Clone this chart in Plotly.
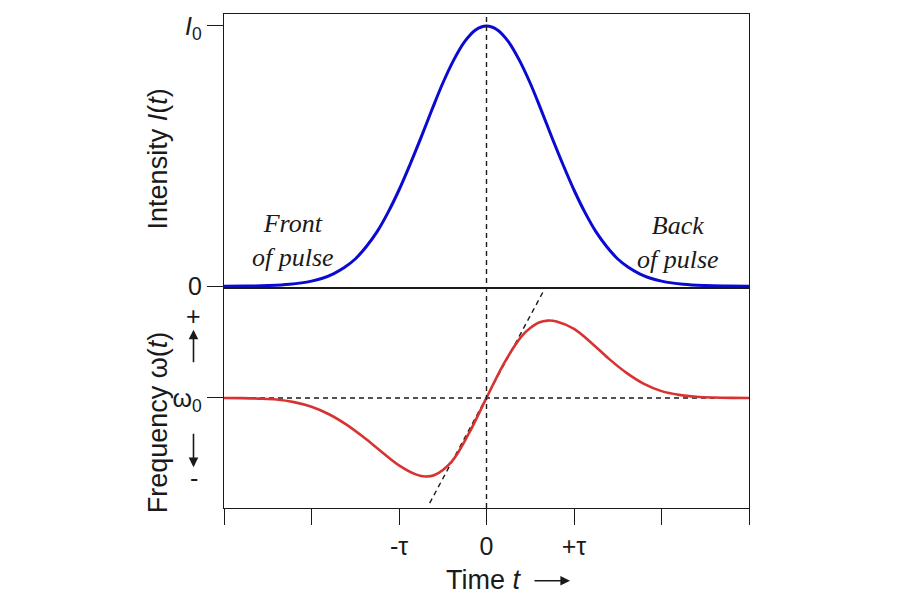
import plotly.graph_objects as go
from plotly.subplots import make_subplots

# ---- data (time in units of tau) ----
t_intensity = [-3.0, -2.75, -2.5, -2.25, -2.0, -1.875, -1.75, -1.625, -1.5, -1.375, -1.25,
               -1.125, -1.0, -0.875, -0.75, -0.625, -0.5, -0.375, -0.25, -0.125, 0.0,
               0.125, 0.25, 0.375, 0.5, 0.625, 0.75, 0.875, 1.0, 1.125, 1.25, 1.375, 1.5,
               1.625, 1.75, 1.875, 2.0, 2.25, 2.5, 2.75, 3.0]
intensity = [0.0, 0.001, 0.003, 0.008, 0.02, 0.031, 0.048, 0.072, 0.105, 0.152, 0.21,
             0.284, 0.37, 0.467, 0.57, 0.677, 0.78, 0.869, 0.94, 0.985, 1.0,
             0.985, 0.94, 0.869, 0.78, 0.677, 0.57, 0.467, 0.37, 0.284, 0.21, 0.152, 0.105,
             0.072, 0.048, 0.031, 0.02, 0.008, 0.003, 0.001, 0.0]

t_freq = [-3.0, -2.8, -2.6, -2.4, -2.2, -2.0, -1.8, -1.6, -1.4, -1.2, -1.0, -0.8, -0.7,
          -0.6, -0.4, -0.2, 0.0, 0.2, 0.4, 0.5, 0.6, 0.7, 0.8, 1.0, 1.2, 1.4, 1.6, 1.8, 2.0,
          2.2, 2.4, 2.6, 2.8, 3.0]
freq = [0.0, -0.002, -0.006, -0.014, -0.038, -0.08, -0.148, -0.243, -0.36, -0.488, -0.612,
        -0.697, -0.714, -0.703, -0.58, -0.32, 0.0, 0.315, 0.56, 0.635, 0.686, 0.703, 0.695,
        0.628, 0.5, 0.355, 0.228, 0.128, 0.062, 0.028, 0.011, 0.004, 0.001, 0.0]

tangent_t = [-0.649, 0.671]
tangent_w = [-0.955, 1.0]

baseline_t = [-3.0, 3.0]
baseline_w = [0.0, 0.0]

x_ticks = [-3, -2, -1, 0, 1, 2, 3]
x_ticktext = ["", "", "-τ", "0", "+τ", "", ""]

BLUE = "#0a0ad0"
RED = "#d83232"
INK = "#1a1a1a"
FONT = "Liberation Sans, Arial, sans-serif"
FS_TICK = 25
FS_TITLE = 27

fig = make_subplots(rows=2, cols=1, shared_xaxes=True, vertical_spacing=0)

fig.add_trace(go.Scatter(x=t_intensity, y=intensity, mode="lines",
                         line=dict(color=BLUE, width=3, shape="spline", smoothing=1.0),
                         hoverinfo="skip", showlegend=False), row=1, col=1)

dash_line = dict(color=INK, width=1.4, dash="5px,4px")
fig.add_trace(go.Scatter(x=baseline_t, y=baseline_w, mode="lines", line=dash_line,
                         hoverinfo="skip", showlegend=False), row=2, col=1)
fig.add_trace(go.Scatter(x=tangent_t, y=tangent_w, mode="lines", line=dash_line,
                         hoverinfo="skip", showlegend=False), row=2, col=1)
fig.add_trace(go.Scatter(x=t_freq, y=freq, mode="lines",
                         line=dict(color=RED, width=2.6, shape="spline", smoothing=1.0),
                         hoverinfo="skip", showlegend=False), row=2, col=1)

# vertical dashed line at t = 0 through both panels
fig.add_shape(type="line", xref="x", yref="paper", x0=0, x1=0, y0=0, y1=1,
              line=dash_line)

upper_frac = 275 / 496
fig.update_layout(
    width=900, height=600,
    margin=dict(l=224, r=151, t=12, b=92),
    paper_bgcolor="white", plot_bgcolor="white",
    font=dict(family=FONT, size=FS_TICK, color=INK),
    showlegend=False,
)

tickfont = dict(size=FS_TICK, family=FONT, color=INK)
fig.update_xaxes(range=[-3, 3], showgrid=False, zeroline=False,
                 showline=True, linecolor=INK, linewidth=1.4, mirror=True)
fig.update_xaxes(row=1, col=1, ticks="", showticklabels=False, linewidth=1.0)
fig.update_xaxes(row=2, col=1, tickmode="array", tickvals=x_ticks, ticktext=x_ticktext,
                 ticks="outside", ticklen=16, tickwidth=1.4, tickcolor=INK, tickfont=tickfont)

fig.update_yaxes(row=1, col=1, domain=[1 - upper_frac, 1], range=[-0.006, 1.046],
                 tickmode="array", tickvals=[0, 1], ticktext=["0", "<i>I</i><sub>0</sub>"],
                 ticks="outside", ticklen=16, tickwidth=1.4, tickcolor=INK,
                 showgrid=False, zeroline=False, showline=True, linecolor=INK,
                 linewidth=1.4, mirror=True, tickfont=tickfont)
fig.update_yaxes(row=2, col=1, domain=[0, 1 - upper_frac], range=[-1, 1],
                 tickmode="array", tickvals=[0], ticktext=["ω<sub>0</sub>"],
                 ticks="outside", ticklen=16, tickwidth=1.4, tickcolor=INK,
                 showgrid=False, zeroline=False, showline=True, linecolor=INK,
                 linewidth=1.4, mirror=True, tickfont=tickfont)

serif = dict(family="Liberation Serif, Times New Roman, serif", size=26, color=INK)
title_font = dict(family=FONT, size=FS_TITLE, color=INK)
C = dict(xanchor="center", yanchor="middle")


def px_x(px):
    return (px - 224) / 525


def px_y(py):
    return (508 - py) / 496


ann = []
ann.append(dict(x=-2.217, y=0.176, xref="x", yref="y", showarrow=False,
                text="<i>Front</i><br><i>of pulse</i>", font=serif, align="center", **C))
ann.append(dict(x=2.183, y=0.168, xref="x", yref="y", showarrow=False,
                text="<i>Back</i><br><i>of pulse</i>", font=serif, align="center", **C))

# axis titles
ann.append(dict(x=px_x(158), y=px_y(158), xref="paper", yref="paper",
                showarrow=False, textangle=-90, text="Intensity <i>I</i>(<i>t</i>)",
                font=title_font, **C))
ann.append(dict(x=px_x(158), y=px_y(422), xref="paper", yref="paper",
                showarrow=False, textangle=-90, text="Frequency ω(<i>t</i>)",
                font=title_font, **C))
ann.append(dict(x=px_x(484), y=px_y(580), xref="paper", yref="paper",
                showarrow=False, text="Time <i>t</i>", font=title_font, **C))
# arrow after "Time t"
ann.append(dict(x=px_x(570), y=px_y(581), xref="paper", yref="paper",
                ax=-37, ay=0, showarrow=True, text="",
                arrowhead=2, arrowsize=1.2, arrowwidth=1.6, arrowcolor=INK))
# + / - with arrows on frequency axis
xa = px_x(193.5)
ann.append(dict(x=xa, y=0.747, xref="paper", yref="y2", showarrow=False, text="+",
                font=dict(family=FONT, size=FS_TICK, color=INK), **C))
ann.append(dict(x=xa, y=-0.729, xref="paper", yref="y2", showarrow=False, text="-",
                font=dict(family=FONT, size=FS_TICK, color=INK), **C))
ann.append(dict(x=xa, y=0.62, xref="paper", yref="y2", ax=0, ay=34, showarrow=True,
                text="", arrowhead=2, arrowsize=1.2, arrowwidth=1.6, arrowcolor=INK))
ann.append(dict(x=xa, y=-0.629, xref="paper", yref="y2", ax=0, ay=-35, showarrow=True,
                text="", arrowhead=2, arrowsize=1.2, arrowwidth=1.6, arrowcolor=INK))
fig.update_layout(annotations=ann)

fig.write_html("out.html")
